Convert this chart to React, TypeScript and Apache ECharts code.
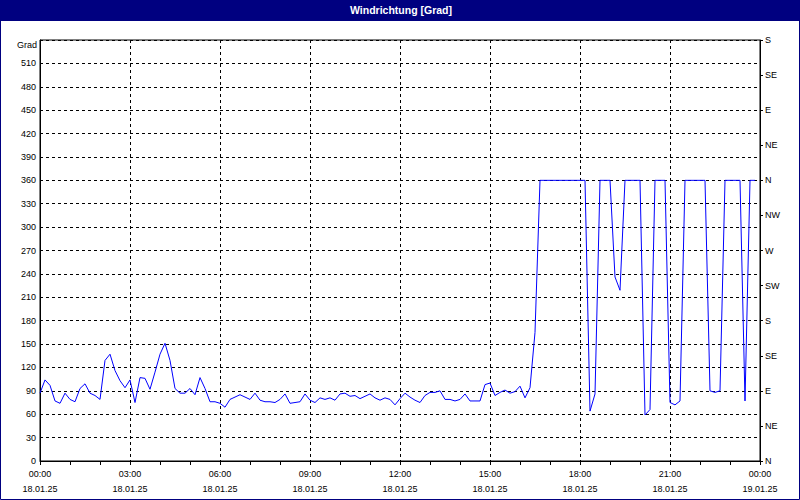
import React, { useEffect, useRef } from "react";
import * as echarts from "echarts";

// Wind direction in degrees, one value every 10 minutes from 00:00 to 23:50 (18.01.25)
const directionDeg: number[] = [
  // 00:00 - 02:50
  87, 104, 97, 77, 74, 87, 79, 76, 93, 99, 87, 84, 79, 129, 137, 116, 103, 94,
  // 03:00 - 05:50
  104, 75, 107, 106, 92, 114, 137, 151, 129, 93, 87, 87, 93, 85, 107, 93, 76, 76,
  // 06:00 - 08:50
  74, 69, 79, 82, 85, 82, 79, 87, 78, 76, 76, 75, 79, 86, 74, 75, 76, 86,
  // 09:00 - 11:50
  78, 75, 81, 79, 81, 78, 86, 87, 83, 84, 80, 83, 86, 81, 78, 81, 79, 72,
  // 12:00 - 14:50
  80, 87, 82, 78, 75, 84, 88, 88, 90, 79, 79, 77, 79, 86, 77, 77, 77, 98,
  // 15:00 - 17:50
  100, 84, 88, 91, 87, 89, 96, 81, 94, 165, 360, 360, 360, 360, 360, 360, 360, 360,
  // 18:00 - 20:50
  360, 360, 64, 86, 360, 360, 360, 236, 219, 360, 360, 360, 360, 59, 66, 360, 360, 360,
  // 21:00 - 23:50
  75, 72, 77, 360, 360, 360, 360, 360, 90, 88, 90, 360, 360, 360, 360, 77, 360, 360,
];
const STEP_MIN = 10;

const xTickLabels: string[] = [
  "00:00\n18.01.25",
  "03:00\n18.01.25",
  "06:00\n18.01.25",
  "09:00\n18.01.25",
  "12:00\n18.01.25",
  "15:00\n18.01.25",
  "18:00\n18.01.25",
  "21:00\n18.01.25",
  "00:00\n19.01.25",
];

const compassLabels: string[] = ["N", "NE", "E", "SE", "S", "SW", "W", "NW", "N", "NE", "E", "SE", "S"];

const TITLE = "Windrichtung [Grad]";
const UNIT = "Grad";

const FONT = '"Liberation Sans", Arial, sans-serif';

export default function App() {
  const ref = useRef<HTMLDivElement>(null);

  useEffect(() => {
    document.body.style.margin = "0";
    if (!ref.current) return;
    const chart = echarts.init(ref.current, undefined, { renderer: "svg" });
    const seriesData = directionDeg.map((v, i) => [i * STEP_MIN, v]);

    chart.setOption({
      animation: false,
      backgroundColor: "#ffffff",
      textStyle: { fontFamily: FONT },
      grid: {
        left: 40,
        right: 40,
        top: 40,
        bottom: 39,
        show: true,
        borderColor: "#000",
        borderWidth: 1,
        backgroundColor: "transparent",
      },
      xAxis: {
        type: "value",
        min: 0,
        max: 1440,
        interval: 180,
        axisLine: { show: true, lineStyle: { color: "#000", width: 1 } },
        axisTick: { show: true, length: 4, lineStyle: { color: "#000" } },
        minorTick: { show: true, splitNumber: 3, length: 4, lineStyle: { color: "#000" } },
        splitLine: { show: true, lineStyle: { color: "#000", type: [3, 3], width: 1 } },
        axisLabel: {
          formatter: (v: number) => xTickLabels[Math.round(v / 180)] ?? "",
          fontSize: 9,
          fontFamily: FONT,
          color: "#000",
          lineHeight: 15,
          margin: 5,
          showMinLabel: true,
          showMaxLabel: true,
        },
      },
      yAxis: [
        {
          type: "value",
          position: "left",
          min: 0,
          max: 540,
          interval: 30,
          axisLine: { show: true, lineStyle: { color: "#000", width: 1 } },
          axisTick: { show: false },
          splitLine: { show: true, lineStyle: { color: "#000", type: [3, 3], width: 1 } },
          axisLabel: {
            formatter: (v: number) => (v >= 540 ? "" : String(v)),
            fontSize: 9,
            fontFamily: FONT,
            color: "#000",
            margin: 4,
          },
        },
        {
          type: "value",
          position: "right",
          min: 0,
          max: 540,
          interval: 45,
          axisLine: { show: true, lineStyle: { color: "#000", width: 1 } },
          axisTick: { show: true, length: 3, lineStyle: { color: "#000" } },
          splitLine: { show: false },
          axisLabel: {
            formatter: (v: number) => compassLabels[Math.round(v / 45)] ?? "",
            fontSize: 9,
            fontFamily: FONT,
            color: "#000",
            margin: 5,
          },
        },
      ],
      graphic: [
        {
          type: "rect",
          shape: { x: 0, y: 0, width: 800, height: 21 },
          style: { fill: "#000080" },
          silent: true,
        },
        {
          type: "text",
          x: 401,
          y: 10,
          style: {
            text: TITLE,
            fill: "#ffffff",
            font: `bold 10.5px ${FONT}`,
            textAlign: "center",
            textVerticalAlign: "middle",
          },
          silent: true,
        },
        {
          type: "rect",
          shape: { x: 0.5, y: 0.5, width: 799, height: 499 },
          style: { fill: "none", stroke: "#000080", lineWidth: 1 },
          silent: true,
        },
        {
          type: "text",
          x: 37,
          y: 45,
          style: {
            text: UNIT,
            fill: "#000",
            font: `9px ${FONT}`,
            textAlign: "right",
            textVerticalAlign: "middle",
          },
          silent: true,
        },
      ],
      series: [
        {
          type: "line",
          yAxisIndex: 0,
          data: seriesData,
          showSymbol: false,
          symbol: "none",
          lineStyle: { color: "#0000ff", width: 1 },
          itemStyle: { color: "#0000ff" },
          silent: true,
        },
      ],
    });

    return () => {
      chart.dispose();
    };
  }, []);

  return (
    <div
      ref={ref}
      style={{ position: "fixed", left: 0, top: 0, width: 800, height: 500 }}
    />
  );
}
